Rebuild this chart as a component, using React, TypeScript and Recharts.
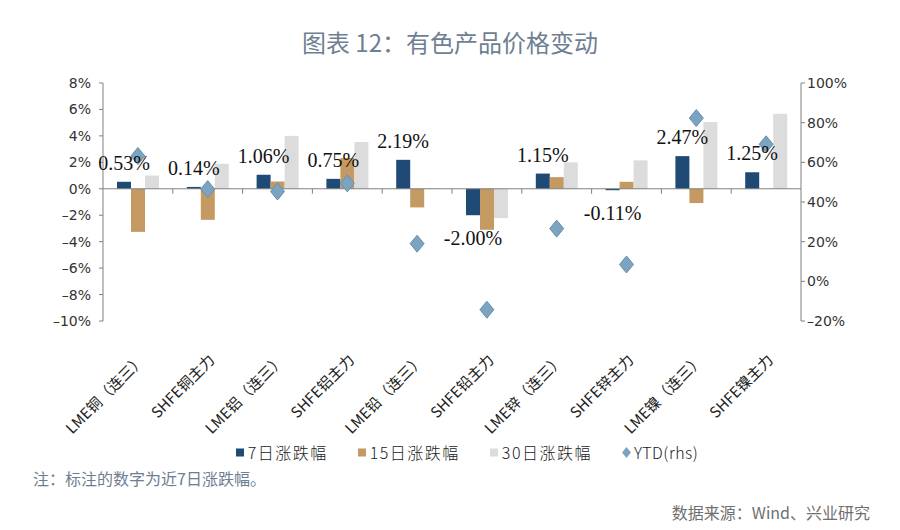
import {
  Bar,
  ComposedChart,
  LabelList,
  Legend,
  ReferenceLine,
  Scatter,
  XAxis,
  YAxis,
} from "recharts";

const CATEGORIES = [
  "LME铜（连三）",
  "SHFE铜主力",
  "LME铝（连三）",
  "SHFE铝主力",
  "LME铅（连三）",
  "SHFE铅主力",
  "LME锌（连三）",
  "SHFE锌主力",
  "LME镍（连三）",
  "SHFE镍主力",
];
const CHANGE_7D = [0.53, 0.14, 1.06, 0.75, 2.19, -2.0, 1.15, -0.11, 2.47, 1.25];
const CHANGE_15D = [-3.26, -2.35, 0.55, 2.33, -1.41, -3.1, 0.88, 0.53, -1.08, 0];
const CHANGE_30D = [1.0, 1.89, 4.0, 3.54, 0.05, -2.22, 2.0, 2.15, 5.05, 5.68];
const YTD = [63.2, 46.5, 45.3, 49.4, 19.0, -14.3, 26.6, 8.5, 82.3, 69.1];
const LEFT_TICKS = [-10, -8, -6, -4, -2, 0, 2, 4, 6, 8];
const RIGHT_TICKS = [-20, 0, 20, 40, 60, 80, 100];

const COLORS = {
  d7: "#1f4a75",
  d15: "#c49a62",
  d30: "#dcdcdc",
  ytd: "#7ba4c1",
};

const data = CATEGORIES.map((name, i) => ({
  name,
  d7: CHANGE_7D[i],
  d15: CHANGE_15D[i],
  d30: CHANGE_30D[i],
  ytd: YTD[i],
}));

const pct = (v: number) => (v < 0 ? `–${-v}%` : `${v}%`);

function CategoryTick({ x, y, payload }: any) {
  const ax = x + 8;
  const ay = y + 32;
  return (
    <text
      x={ax}
      y={ay}
      transform={`rotate(-45 ${ax} ${ay})`}
      textAnchor="end"
      fontSize={15}
      fontFamily="'Noto Sans CJK SC', sans-serif"
      fill="#222"
    >
      {payload.value}
    </text>
  );
}

function ChangeLabel({ x, y, width, height, value }: any) {
  const top = Math.min(y, y + height);
  const bottom = Math.max(y, y + height);
  const ty = value >= 0 ? top - 12 : bottom + 30;
  return (
    <text
      x={x + width / 2}
      y={ty}
      textAnchor="middle"
      fontFamily="'Liberation Serif', serif"
      fontSize={20}
      fill="#111"
    >
      {Number(value).toFixed(2)}%
    </text>
  );
}

function Diamond({ cx, cy }: any) {
  if (cx == null || cy == null) return null;
  return (
    <path
      d={`M${cx},${cy - 8.5} L${cx + 7},${cy} L${cx},${cy + 8.5} L${cx - 7},${cy} Z`}
      fill={COLORS.ytd}
      stroke="#6890ad"
      strokeWidth={1}
    />
  );
}

// zero line with Excel-style ticks between categories
function ZeroLine({ x1, y1, x2, y2 }: any) {
  const n = CATEGORIES.length;
  const ticks = [];
  for (let i = 1; i < n; i++) {
    const tx = x1 + ((x2 - x1) * i) / n;
    ticks.push(<line key={i} x1={tx} y1={y1} x2={tx} y2={y1 + 5} stroke="#808080" />);
  }
  return (
    <g>
      <line x1={x1} y1={y1} x2={x2} y2={y2} stroke="#808080" />
      {ticks}
    </g>
  );
}

const LEGEND_ITEMS = [
  { label: "7日涨跌幅", color: COLORS.d7, shape: "square" },
  { label: "15日涨跌幅", color: COLORS.d15, shape: "square" },
  { label: "30日涨跌幅", color: COLORS.d30, shape: "square" },
  { label: "YTD(rhs)", color: COLORS.ytd, shape: "diamond" },
];

function LegendContent() {
  return (
    <div
      style={{
        width: 900,
        height: 20,
        display: "flex",
        justifyContent: "center",
        alignItems: "center",
        paddingLeft: 34,
        boxSizing: "border-box",
        fontFamily: "'Noto Sans CJK SC', sans-serif",
        fontSize: 16,
        fontWeight: 300,
        color: "#222",
        gap: 30,
      }}
    >
      {LEGEND_ITEMS.map((it) => (
        <div key={it.label} style={{ display: "flex", alignItems: "center", gap: 3 }}>
          <svg width={9} height={11}>
            {it.shape === "square" ? (
              <rect x={0} y={1.5} width={8} height={8} fill={it.color} />
            ) : (
              <path d="M4.5,0 L9,5.5 L4.5,11 L0,5.5 Z" fill={it.color} />
            )}
          </svg>
          <span style={{ letterSpacing: it.shape === "square" ? 1.5 : 0.5 }}>{it.label}</span>
        </div>
      ))}
    </div>
  );
}

export default function App() {
  return (
    <div
      style={{
        position: "absolute",
        left: 0,
        top: 0,
        width: 900,
        height: 530,
        background: "#fff",
        fontFamily: "'Noto Sans CJK SC', sans-serif",
      }}
    >
      <div
        style={{
          position: "absolute",
          top: 26,
          left: 0,
          width: 900,
          textAlign: "center",
          fontSize: 24,
          fontWeight: 400,
          color: "#6f7f93",
          lineHeight: "32px",
        }}
      >
        图表 12：有色产品价格变动
      </div>
      <ComposedChart
        width={900}
        height={530}
        data={data}
        margin={{ top: 83, right: 0, left: 0, bottom: 68 }}
        barSize={14}
        barGap={0}
      >
        <XAxis
          dataKey="name"
          height={121}
          axisLine={false}
          tickLine={false}
          interval={0}
          tick={<CategoryTick />}
        />
        <YAxis
          yAxisId="left"
          domain={[-10, 8]}
          ticks={LEFT_TICKS}
          tickFormatter={pct}
          width={103}
          axisLine={{ stroke: "#808080" }}
          tickLine={{ stroke: "#808080" }}
          tickSize={4}
          tickMargin={8}
          tick={{ fill: "#333", fontSize: 14, fontFamily: "'DejaVu Sans', sans-serif" }}
          allowDataOverflow
        />
        <YAxis
          yAxisId="right"
          orientation="right"
          domain={[-20, 100]}
          ticks={RIGHT_TICKS}
          tickFormatter={pct}
          width={99}
          axisLine={{ stroke: "#808080" }}
          tickLine={{ stroke: "#808080" }}
          tickSize={4}
          tickMargin={2}
          tick={{ fill: "#333", fontSize: 14, fontFamily: "'DejaVu Sans', sans-serif" }}
          allowDataOverflow
        />
        <ReferenceLine y={0} yAxisId="left" shape={<ZeroLine />} />
        <Bar yAxisId="left" dataKey="d7" name="7日涨跌幅" fill={COLORS.d7} isAnimationActive={false}>
          <LabelList dataKey="d7" content={<ChangeLabel />} />
        </Bar>
        <Bar yAxisId="left" dataKey="d15" name="15日涨跌幅" fill={COLORS.d15} isAnimationActive={false} />
        <Bar yAxisId="left" dataKey="d30" name="30日涨跌幅" fill={COLORS.d30} isAnimationActive={false} />
        <Scatter
          yAxisId="right"
          dataKey="ytd"
          name="YTD(rhs)"
          fill={COLORS.ytd}
          shape={<Diamond />}
          isAnimationActive={false}
        />
        <Legend verticalAlign="bottom" content={<LegendContent />} />
      </ComposedChart>
      <div
        style={{
          position: "absolute",
          left: 33,
          top: 466,
          fontSize: 16,
          color: "#6d7e93",
          lineHeight: "24px",
        }}
      >
        注：标注的数字为近7日涨跌幅。
      </div>
      <div
        style={{
          position: "absolute",
          right: 30,
          top: 500,
          fontSize: 16,
          color: "#6f6f6f",
          lineHeight: "24px",
        }}
      >
        数据来源：Wind、兴业研究
      </div>
    </div>
  );
}
